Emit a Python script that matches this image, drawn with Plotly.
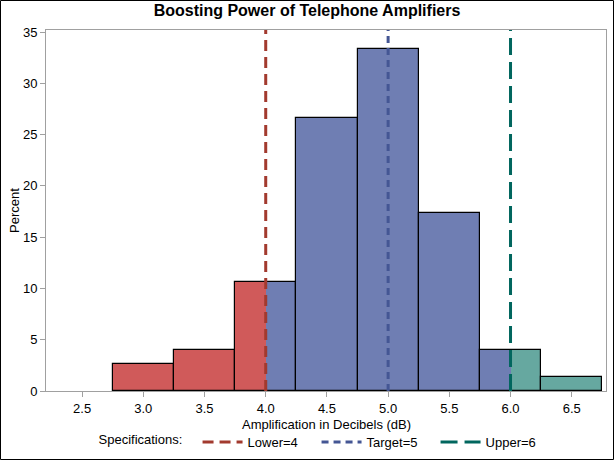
import plotly.graph_objects as go

# Data
bin_edges = [2.25, 2.75, 3.25, 3.75, 4.25, 4.75, 5.25, 5.75, 6.25, 6.75]
percents = [0.0, 2.6667, 4.0, 10.6667, 26.6667, 33.3333, 17.3333, 4.0, 1.3333]
spec_names = ["Lower", "Target", "Upper"]
spec_values = [4, 5, 6]
x_tick_vals = [2.5, 3.0, 3.5, 4.0, 4.5, 5.0, 5.5, 6.0, 6.5]
y_tick_vals = [0, 5, 10, 15, 20, 25, 30, 35]

# Styles
fill_below = "#D05A5A"
fill_within = "#6F7EB3"
fill_above = "#66A8A0"
line_colors = ["#A23A2E", "#445694", "#01665E"]
line_dashes = ["11px,6px", "7px,5px", "17px,7px"]
FONT = "Liberation Sans, Arial, sans-serif"
Y_MAX = 35.2
X_RANGE = [2.205, 6.78]

lower, target, upper = spec_values

fig = go.Figure()

# colored segments of each bin, split at spec limits
seg_x, seg_w, seg_y, seg_c = [], [], [], []
for i, p in enumerate(percents):
    if p <= 0:
        continue
    a, b = bin_edges[i], bin_edges[i + 1]
    cuts = [a] + [c for c in (lower, upper) if a < c < b] + [b]
    for s0, s1 in zip(cuts[:-1], cuts[1:]):
        mid = (s0 + s1) / 2
        if mid < lower:
            col = fill_below
        elif mid > upper:
            col = fill_above
        else:
            col = fill_within
        seg_x.append(mid)
        seg_w.append(s1 - s0)
        seg_y.append(p)
        seg_c.append(col)

fig.add_trace(go.Bar(
    x=seg_x, y=seg_y, width=seg_w, marker=dict(color=seg_c, line=dict(width=0)),
    showlegend=False, hoverinfo="skip"))

# outlines of non-empty bins
centers, widths, heights = [], [], []
for i, p in enumerate(percents):
    if p <= 0:
        continue
    centers.append((bin_edges[i] + bin_edges[i + 1]) / 2)
    widths.append(bin_edges[i + 1] - bin_edges[i])
    heights.append(p)
fig.add_trace(go.Bar(
    x=centers, y=heights, width=widths,
    marker=dict(color="rgba(0,0,0,0)", line=dict(color="black", width=1.2)),
    showlegend=False, hoverinfo="skip"))

for name, v, c, d in zip(spec_names, spec_values, line_colors, line_dashes):
    fig.add_trace(go.Scatter(
        x=[v, v], y=[0, Y_MAX], mode="lines",
        line=dict(color=c, width=3, dash=d),
        name=f"{name}={v}"))

W, H = 614, 460
ml, mr, mt, mb = 46, 8, 30, 69
pw, ph = W - ml - mr, H - mt - mb

fig.update_layout(
    width=W, height=H,
    margin=dict(l=ml, r=mr, t=mt, b=mb, autoexpand=False),
    paper_bgcolor="white", plot_bgcolor="white",
    barmode="overlay", bargap=0,
    font=dict(family=FONT, size=13, color="#000000"),
    title=dict(text="<b>Boosting Power of Telephone Amplifiers</b>",
               x=0.5, xref="container", xanchor="center",
               y=1 - 10 / H, yref="container", yanchor="middle",
               font=dict(size=16, family=FONT)),
    xaxis=dict(range=X_RANGE, tickvals=x_tick_vals, tickformat=".1f",
               showgrid=False, zeroline=False, showline=True, linecolor="#A0A0A0",
               linewidth=1, mirror=True, ticks="outside", tickcolor="#A0A0A0",
               ticklen=5, tickfont=dict(size=13), automargin=False),
    yaxis=dict(range=[0, Y_MAX], tickvals=y_tick_vals,
               showgrid=False, zeroline=False, showline=True, linecolor="#A0A0A0",
               linewidth=1, mirror=True, ticks="outside", tickcolor="#A0A0A0",
               ticklen=5, tickfont=dict(size=13), automargin=False,
               title=dict(text="Percent", font=dict(size=13), standoff=0)),
    annotations=[dict(text="Amplification in Decibels (dB)", xref="paper", yref="paper",
                      x=0.5, y=-(424 - (H - mb)) / ph, xanchor="center", yanchor="middle",
                      showarrow=False, font=dict(size=13))],
    legend=dict(orientation="h", x=0.5 + 19 / W, xref="container", xanchor="center",
                y=18 / H, yref="container", yanchor="middle",
                title=dict(text="Specifications:  ", side="left", font=dict(size=13)),
                font=dict(size=13), itemwidth=40, entrywidth=64, entrywidthmode="pixels",
                tracegroupgap=0, bgcolor="rgba(0,0,0,0)"),
    shapes=[dict(type="rect", xref="paper", yref="paper",
                 x0=-(ml - 0.5) / pw, x1=1 + (mr - 0.5) / pw,
                 y0=-(mb - 0.5) / ph, y1=1 + (mt - 0.5) / ph,
                 line=dict(color="black", width=1), fillcolor="rgba(0,0,0,0)",
                 layer="above")],
)

fig.write_html("out.html", config={"displayModeBar": False},
               post_script="document.body.style.margin='0';")
